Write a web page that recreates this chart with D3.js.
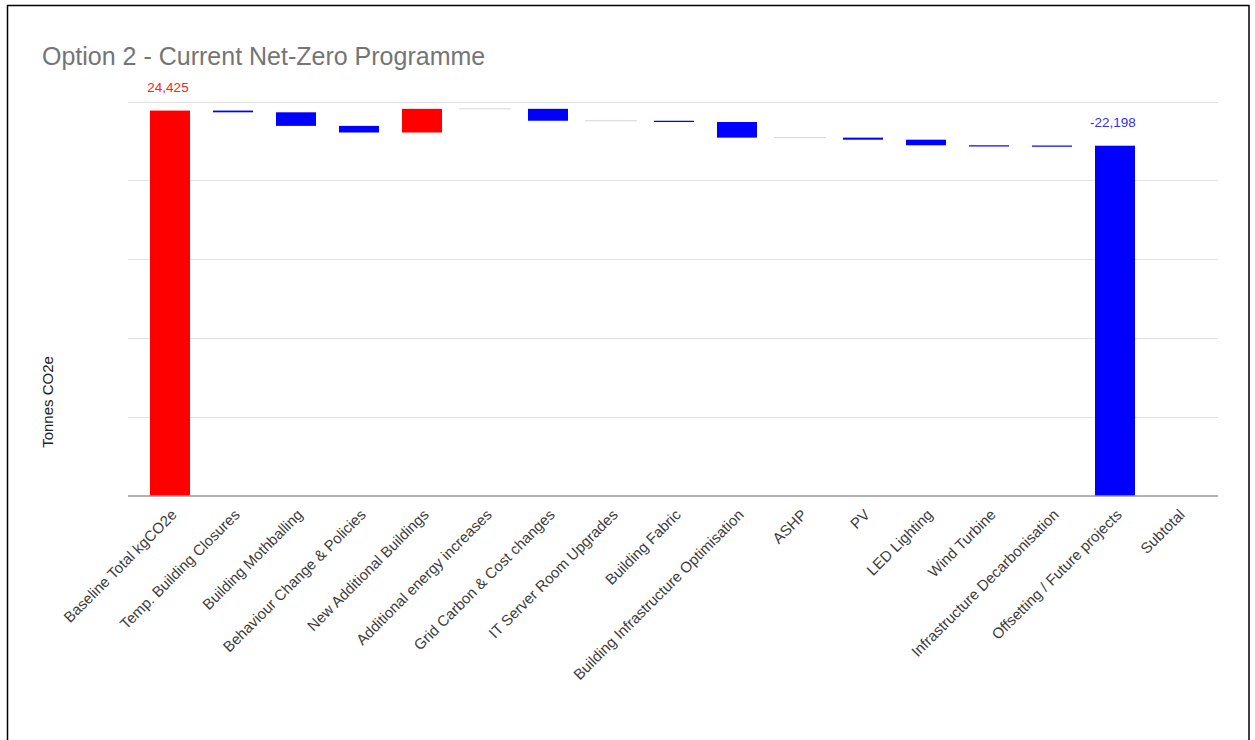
<!DOCTYPE html>
<html>
<head>
<meta charset="utf-8">
<script src="https://cdn.jsdelivr.net/npm/d3@7"></script>
<style>
  html, body { margin: 0; padding: 0; background: #fff; }
  svg { display: block; font-family: "Liberation Sans", Arial, sans-serif; }
</style>
</head>
<body>
<svg id="chart" width="1255" height="740"></svg>
<script>
// Waterfall of tonnes CO2e: baseline, then each programme step, then subtotal.
const categories = [
  "Baseline Total kgCO2e",
  "Temp. Building Closures",
  "Building Mothballing",
  "Behaviour Change & Policies",
  "New Additional Buildings",
  "Additional energy increases",
  "Grid Carbon & Cost changes",
  "IT Server Room Upgrades",
  "Building Fabric",
  "Building Infrastructure Optimisation",
  "ASHP",
  "PV",
  "LED Lighting",
  "Wind Turbine",
  "Infrastructure Decarbonisation",
  "Offsetting / Future projects",
  "Subtotal"
];
// Change contributed by each step (the baseline is the starting value).
const changes = [24425, -110, -860, -420, 1500, 0, -755, 0, -80, -990, 0, -130, -355, -15, -12, -22198, 0];
// Steps whose value is printed above the bar.
const labelled = ["Baseline Total kgCO2e", "Offsetting / Future projects"];
const yTicks = [0, 5000, 10000, 15000, 20000, 25000];
const title = "Option 2 - Current Net-Zero Programme";
const yTitle = "Tonnes CO2e";

const svg = d3.select("#chart");
const fmt = d3.formatLocale({decimal: ".", thousands: ",", grouping: [3], currency: ["", ""], minus: "-"}).format(",");

// Running totals
let run = 0;
const steps = categories.map((c, i) => {
  let start, end;
  if (c === "Subtotal") { start = 0; end = run; }
  else { start = run; end = run + changes[i]; run = end; }
  return {cat: c, value: changes[i], start, end};
});

const x = d3.scaleBand().domain(categories).range([138.5, 1209.5]).padding(0);
const y = d3.scaleLinear().domain([0, 25000]).range([496, 101.5]);
const barW = x.bandwidth() * 0.635;

// frame
svg.append("rect").attr("x", 7.5).attr("y", 5.5).attr("width", 1241.5).attr("height", 760)
  .attr("fill", "none").attr("stroke", "#000").attr("stroke-width", 1.5);

// title
svg.append("text").attr("x", 42).attr("y", 65).attr("font-size", 25).attr("fill", "#757575").text(title);

// gridlines
svg.append("g").selectAll("line").data(yTicks.filter(t => t > 0)).join("line")
  .attr("x1", 128).attr("x2", 1218)
  .attr("y1", d => Math.round(y(d)) + 0.5).attr("y2", d => Math.round(y(d)) + 0.5)
  .attr("stroke", "#e2e2e2").attr("stroke-width", 1);

// bars
const bars = svg.append("g");
steps.forEach(d => {
  const cx = x(d.cat) + x.bandwidth() / 2;
  const top = y(Math.max(d.start, d.end));
  const bot = y(Math.min(d.start, d.end));
  if (d.cat === "Subtotal") return;
  if (d.value === 0) {
    bars.append("line").attr("x1", cx - barW / 2 - 6).attr("x2", cx + barW / 2 + 6)
      .attr("y1", top).attr("y2", top).attr("stroke", "#d4d4dc").attr("stroke-width", 1);
    return;
  }
  const h = Math.max(bot - top, 1.2);
  bars.append("rect").attr("x", cx - barW / 2).attr("y", top).attr("width", barW).attr("height", h)
    .attr("fill", d.end >= d.start ? "#ff0000" : "#0000ff");
});

// value labels
steps.filter(d => labelled.includes(d.cat)).forEach(d => {
  const cx = x(d.cat) + x.bandwidth() / 2;
  svg.append("text").attr("x", cx - 2).attr("y", y(Math.max(d.start, d.end)) - 19)
    .attr("text-anchor", "middle").attr("font-size", 13.5)
    .attr("fill", d.end >= d.start ? "#ff2020" : "#3030f0")
    .text(fmt(d.value));
});

// baseline axis
svg.append("line").attr("x1", 128).attr("x2", 1218).attr("y1", y(0)).attr("y2", y(0))
  .attr("stroke", "#999").attr("stroke-width", 1.5);

// category labels
svg.append("g").selectAll("text").data(categories).join("text")
  .attr("transform", d => `translate(${x(d) + x.bandwidth() / 2 + 4},${512}) rotate(-45)`)
  .attr("text-anchor", "end").attr("dy", "0.35em").attr("font-size", 15)
  .attr("fill", "#3c3c3c").text(d => d);

// y-axis title
svg.append("text").attr("transform", "translate(53,402) rotate(-90)")
  .attr("text-anchor", "middle").attr("font-size", 15).attr("fill", "#222").text(yTitle);
</script>
</body>
</html>
